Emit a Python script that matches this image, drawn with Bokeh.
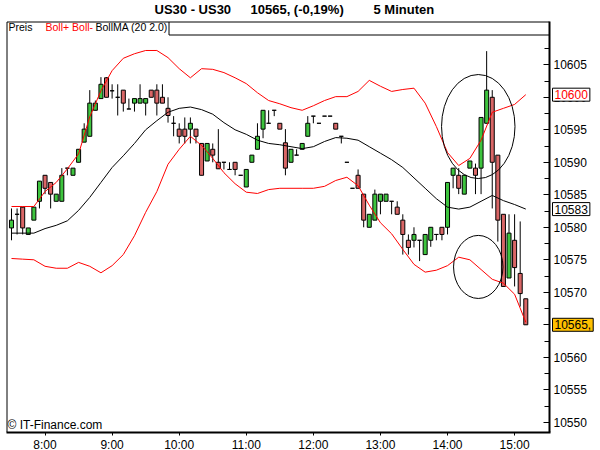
from bokeh.plotting import figure
from bokeh.models import Label, FixedTicker, Range1d, ColumnDataSource
from bokeh.embed import file_html
from bokeh.resources import INLINE

# 5 minute bars, first bar at 7:30
start_minute = 7 * 60 + 30
bar_minutes = 5

opens = [10579.9, 10582.0, 10583.1, 10578.9, 10581.1, 10584.0, 10588.0, 10586.9, 10584.0, 10584.0,
         10589.1, 10588.0, 10590.0, 10593.1, 10594.0, 10598.0, 10599.8, 10603.0, 10601.0, 10600.0,
         10601.1, 10598.2, 10599.1, 10599.1, 10599.1, 10601.1, 10601.1, 10600.0, 10598.3, 10596.0,
         10595.1, 10595.1, 10595.1, 10595.1, 10592.9, 10590.2, 10592.0, 10590.0, 10590.0, 10588.9,
         10590.0, 10588.0, 10586.2, 10590.0, 10592.0, 10595.1, 10596.0, 10598.0, 10596.0, 10593.0,
         10590.0, 10591.1, 10592.0, 10594.0, 10597.1, 10596.0, 10597.1, 10597.1, 10596.0, 10594.0,
         10590.0, 10586.0, 10588.0, 10585.1, 10580.0, 10581.1, 10584.0, 10584.0, 10584.0, 10583.1,
         10581.1, 10578.0, 10578.0, 10578.0, 10575.8, 10578.0, 10578.9, 10580.0, 10580.0, 10588.0,
         10588.0, 10585.1, 10589.1, 10589.1, 10589.1, 10596.0, 10600.0, 10591.1, 10582.0, 10572.2,
         10578.0, 10572.9, 10569.0]
highs = [10582.9, 10582.9, 10583.1, 10579.9, 10583.1, 10587.1, 10588.0, 10586.9, 10585.1, 10589.1,
         10589.1, 10589.1, 10592.0, 10596.0, 10601.1, 10599.5, 10603.1, 10603.1, 10602.0, 10602.0,
         10601.1, 10599.8, 10599.8, 10602.0, 10599.8, 10601.1, 10602.0, 10602.0, 10600.0, 10597.1,
         10596.0, 10596.9, 10596.9, 10595.1, 10592.9, 10592.9, 10592.9, 10595.1, 10590.0, 10590.0,
         10590.0, 10588.0, 10588.9, 10591.1, 10596.0, 10598.0, 10598.0, 10598.0, 10596.0, 10595.1,
         10592.0, 10592.0, 10592.9, 10597.1, 10597.1, 10596.0, 10597.1, 10597.1, 10596.0, 10594.0,
         10590.0, 10586.0, 10588.9, 10585.1, 10582.0, 10585.8, 10585.1, 10585.1, 10584.0, 10584.0,
         10582.0, 10578.9, 10580.0, 10578.0, 10578.9, 10580.0, 10578.9, 10580.0, 10586.9, 10589.1,
         10589.1, 10588.0, 10590.2, 10589.8, 10596.9, 10607.1, 10601.1, 10591.1, 10582.0, 10582.0,
         10582.0, 10580.9, 10569.0]
lows = [10578.0, 10578.9, 10578.9, 10578.9, 10581.1, 10582.9, 10585.1, 10582.9, 10584.0, 10584.0,
        10588.0, 10588.0, 10590.0, 10593.1, 10594.0, 10598.0, 10599.8, 10600.0, 10599.8, 10597.2,
        10597.8, 10598.2, 10597.8, 10599.1, 10597.2, 10600.0, 10597.2, 10599.1, 10596.1, 10594.0,
        10592.9, 10592.9, 10592.9, 10592.9, 10588.0, 10590.2, 10590.0, 10589.0, 10588.9, 10588.9,
        10588.0, 10588.0, 10586.2, 10590.0, 10592.0, 10593.7, 10596.0, 10597.1, 10595.1, 10588.0,
        10590.0, 10591.1, 10592.0, 10594.0, 10596.0, 10596.0, 10597.1, 10597.1, 10595.1, 10592.9,
        10590.0, 10586.0, 10586.0, 10580.0, 10580.0, 10581.1, 10582.0, 10584.0, 10582.0, 10582.0,
        10575.8, 10575.8, 10576.9, 10574.8, 10575.8, 10577.0, 10578.0, 10578.0, 10578.9, 10586.0,
        10585.1, 10585.1, 10589.1, 10585.1, 10585.1, 10596.0, 10582.9, 10577.8, 10570.9, 10572.2,
        10570.9, 10567.8, 10565.0]
closes = [10581.1, 10582.0, 10579.9, 10579.9, 10583.1, 10587.1, 10586.0, 10585.1, 10585.1, 10588.0,
          10589.1, 10589.1, 10592.0, 10595.1, 10599.1, 10599.1, 10602.0, 10600.0, 10601.0, 10600.0,
          10599.1, 10598.2, 10599.8, 10599.8, 10599.8, 10600.0, 10599.1, 10599.1, 10597.2, 10596.0,
          10594.0, 10594.0, 10596.0, 10594.0, 10588.0, 10592.9, 10591.1, 10589.0, 10590.0, 10588.9,
          10588.9, 10588.0, 10588.9, 10591.1, 10594.0, 10598.0, 10596.0, 10598.0, 10595.1, 10589.1,
          10592.0, 10591.1, 10592.9, 10596.0, 10597.1, 10596.0, 10597.1, 10597.1, 10595.1, 10594.0,
          10590.0, 10586.0, 10586.0, 10581.1, 10582.0, 10585.1, 10585.1, 10585.1, 10584.0, 10582.0,
          10578.9, 10576.9, 10578.9, 10578.0, 10578.9, 10580.0, 10578.9, 10578.9, 10586.9, 10589.1,
          10586.0, 10588.0, 10590.2, 10588.0, 10596.9, 10601.1, 10590.0, 10581.1, 10570.9, 10579.1,
          10573.8, 10569.8, 10565.0]

# Bollinger (20, 2.0)
band_minutes = 10
boll_upper = [10583.2, 10583.2, 10583.2, 10585.5, 10586.9, 10589.0, 10591.3, 10597.0, 10601.0, 10604.1,
              10606.0, 10606.7, 10607.2, 10607.2, 10606.1, 10604.4, 10603.0, 10604.4, 10604.3, 10603.8,
              10603.0, 10602.1, 10600.7, 10599.5, 10599.0, 10598.4, 10598.0, 10598.7, 10599.5, 10600.1,
              10600.1, 10600.9, 10602.6, 10601.7, 10600.9, 10601.2, 10601.4, 10599.1, 10595.5, 10591.5,
              10589.5, 10590.6, 10593.4, 10597.7, 10598.3, 10598.9, 10600.4]
boll_ma = [10579.1, 10579.1, 10579.1, 10579.8, 10580.3, 10581.0, 10582.6, 10584.6, 10586.9, 10589.2,
           10591.0, 10592.9, 10595.0, 10596.4, 10597.7, 10598.3, 10598.5, 10598.1, 10597.4, 10596.1,
           10595.0, 10594.3, 10593.4, 10592.9, 10592.7, 10592.4, 10592.1, 10592.4, 10593.2, 10593.8,
           10593.7, 10593.4, 10592.4, 10591.4, 10590.4, 10589.2, 10587.6, 10586.0, 10584.4, 10583.1,
           10582.8, 10583.1, 10584.0, 10584.9, 10584.1, 10583.5, 10582.8]
boll_lower = [10575.2, 10575.1, 10575.0, 10574.0, 10573.7, 10573.7, 10574.6, 10574.0, 10573.0, 10574.1,
              10575.8, 10578.7, 10582.3, 10585.5, 10589.7, 10592.0, 10594.0, 10592.6, 10590.6, 10588.4,
              10586.7, 10585.4, 10585.2, 10585.8, 10586.0, 10586.0, 10586.0, 10586.0, 10586.3, 10587.2,
              10587.7, 10586.4, 10583.4, 10580.7, 10579.0, 10576.6, 10574.3, 10573.1, 10573.4, 10574.1,
              10575.4, 10575.0, 10573.5, 10572.0, 10571.4, 10569.7, 10565.4]

hour_labels = ["8:00", "9:00", "10:00", "11:00", "12:00", "13:00", "14:00", "15:00"]
price_ticks = [10550, 10555, 10560, 10565, 10570, 10575, 10580, 10585, 10590, 10595, 10600, 10605]

# hand drawn circles: centre (minutes, price), width (minutes), height (points)
circle_minutes = [867.5, 867.5]
circle_prices = [10595.5, 10573.9]
circle_widths = [65.7, 44.2]
circle_heights = [16.0, 9.7]

FONT = "Liberation Sans"
# frame covers the whole canvas width, price scale is drawn inside it
LEFT, FRAME_W, FRAME_H = 5, 595, 432
X0, X1 = 444.63, 976.83
Y0, Y1 = 10548.43, 10614.89


def sx(px):
    return X0 + (px - LEFT) * (X1 - X0) / FRAME_W


def sy(py):
    return Y1 - py * (Y1 - Y0) / FRAME_H


def main():
    times = [start_minute + bar_minutes * i for i in range(len(closes))]
    band_times = [start_minute + band_minutes * i for i in range(len(boll_upper))]
    bars = ColumnDataSource(dict(
        x=times, high=highs, low=lows,
        top=[max(o, c) for o, c in zip(opens, closes)],
        bottom=[min(o, c) for o, c in zip(opens, closes)],
        color=["#3EC43E" if c >= o else "#D96666" for o, c in zip(opens, closes)],
    ))

    p = figure(frame_width=FRAME_W, frame_height=FRAME_H,
               output_backend="svg", toolbar_location=None,
               x_range=Range1d(X0, X1), y_range=Range1d(Y0, Y1),
               y_axis_location="right",
               min_border_left=LEFT, min_border_top=0, min_border_right=0, min_border_bottom=18)
    p.background_fill_color = "white"
    p.border_fill_color = "white"
    p.outline_line_color = None
    p.grid.visible = False

    tick_minutes = [8 * 60 + 60 * i for i in range(len(hour_labels))]
    p.xaxis.ticker = FixedTicker(ticks=tick_minutes)
    p.xaxis.major_label_overrides = dict(zip(tick_minutes, hour_labels))
    p.xaxis.bounds = (sx(6), sx(550))
    p.xaxis.axis_line_width = 2
    p.xaxis.major_tick_out = 3
    p.xaxis.major_tick_in = 0
    p.xaxis.minor_tick_out = 0
    p.xaxis.major_label_standoff = 2

    p.yaxis.ticker = FixedTicker(ticks=price_ticks,
                                 minor_ticks=[t + 2.5 for t in price_ticks])
    p.yaxis.fixed_location = sx(549)
    p.yaxis.bounds = (Y0, sy(21))
    p.yaxis.axis_line_width = 2
    p.yaxis.major_tick_in = 6
    p.yaxis.major_tick_out = 0
    p.yaxis.minor_tick_in = 5
    p.yaxis.minor_tick_out = 0
    p.yaxis.major_label_standoff = 4

    for ax in (p.xaxis, p.yaxis):
        ax.major_label_text_font = FONT
        ax.major_label_text_font_size = "12px"
        ax.major_label_text_color = "black"
        ax.axis_line_color = "black"
        ax.major_tick_line_color = "black"
        ax.minor_tick_line_color = "black"

    # chart box: top and left edges, plus the legend tab
    box_x0 = [sx(6.5), sx(6.5), sx(168.5), sx(168.5)]
    box_x1 = [sx(549), sx(6.5), sx(549), sx(168.5)]
    box_y0 = [sy(21.5), sy(21.5), sy(34.5), sy(21.5)]
    box_y1 = [sy(21.5), Y0, sy(34.5), sy(34.5)]
    p.segment(x0=box_x0, y0=box_y0, x1=box_x1, y1=box_y1, line_color="black", line_width=1)

    # candles
    p.segment(x0="x", y0="low", x1="x", y1="high", source=bars, line_color="black", line_width=1)
    p.vbar(x="x", top="top", bottom="bottom", width=3.6, source=bars,
           fill_color="color", line_color="black", line_width=1)

    # bands
    p.line(band_times, boll_upper, line_color="#FF0000", line_width=1)
    p.line(band_times, boll_lower, line_color="#FF0000", line_width=1)
    p.line(band_times, boll_ma, line_color="black", line_width=1)

    p.ellipse(x=circle_minutes, y=circle_prices, width=circle_widths, height=circle_heights,
              fill_alpha=0, line_color="black", line_width=1)

    # texts (screen units from the frame's bottom left corner)
    def txt(x, y, s, color="black", size="12px", style="normal"):
        p.add_layout(Label(x=x - LEFT, y=FRAME_H - y, x_units="screen", y_units="screen", text=s,
                           text_font=FONT, text_font_size=size, text_color=color,
                           text_font_style=style))

    txt(154, 16.5, "US30 - US30", size="13px", style="bold")
    txt(250, 16.5, "10565, (-0,19%)", size="13px", style="bold")
    txt(373, 16.5, "5 Minuten", size="13px", style="bold")
    txt(8, 32, "Preis", size="10.5px")
    txt(45, 32, "Boll+ Boll-", color="#FF0000", size="10.5px")
    txt(95, 32, "BollMA (20 2.0)", size="10.5px")
    txt(7, 431, "\u00a9 IT-Finance.com")

    # last values on the price scale
    marks = [(boll_upper[-1], "10600", "#FF0000", "white"),
             (boll_ma[-1], "10583", "black", "white"),
             (closes[-1], "10565,", "black", "#FFC000")]
    for price, s, color, bg in marks:
        p.add_layout(Label(x=sx(552), y=price, text=s,
                           text_font=FONT, text_font_size="12px", text_color=color,
                           text_baseline="middle", padding=2,
                           background_fill_color=bg, border_line_color="black",
                           border_line_width=1))

    open("out.html", "w").write(file_html(p, INLINE))


if __name__ == "__main__":
    main()
